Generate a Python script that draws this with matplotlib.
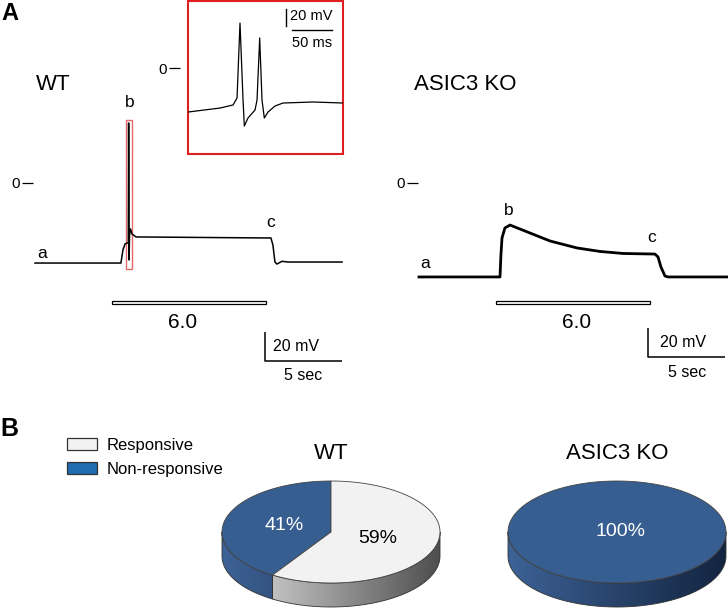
import numpy as np
import matplotlib
matplotlib.use('Agg')
import matplotlib.pyplot as plt
from matplotlib.patches import Rectangle, Polygon, Patch
from matplotlib.colors import LinearSegmentedColormap

plt.rcParams['font.family'] = ['Liberation Sans', 'DejaVu Sans']

# ---- values ----
# WT trace: time (s), membrane potential (mV)
wt_t = [0, 5.39, 5.58, 5.71, 5.84, 5.97, 6.06, 6.08, 6.11, 6.14, 6.20, 6.30, 6.56,
        14.94, 15.32, 15.45, 15.58, 15.71, 16.04, 16.43, 19.94]
wt_mv = [-55.2, -55.2, -55.2, -46.2, -42.1, -41.4, -41.4, 41.4, -53.1, -35.9, -31.7, -35.2, -37.2,
         -37.9, -37.9, -42.8, -54.5, -55.9, -54.0, -54.5, -54.5]

# ASIC3 KO trace
ko_t = [0, 5.26, 5.32, 5.39, 5.58, 5.91, 7.21, 8.51, 10.26, 11.75, 13.25, 15.32, 15.52,
        15.71, 15.97, 16.17, 20.0]
ko_mv = [-64.8, -64.8, -49.7, -37.9, -31.0, -29.0, -34.5, -40.0, -44.8, -47.2, -48.6, -49.0, -51.0,
         -57.9, -64.1, -64.8, -64.8]

# inset: expanded view of the WT spikes, time (ms), mV
ins_t = [0, 40, 56.3, 61.3, 65, 68.8, 70.4, 75, 83.8, 86.3, 89.6, 92.5, 95.4, 100,
         108.8, 118.8, 156.3, 193.8]
ins_mv = [-51.8, -47.1, -43.5, -35.3, 52.9, -37.6, -68.2, -58.8, -49.4, -37.6, 35.3, -37.6, -58.8, -51.8,
          -44.7, -41.2, -40.0, -41.2]

# acid application (pH 6.0), seconds
stim_start = 5.0
stim_end = 15.0
stim_label = '6.0'

# panel B
groups = ['WT', 'ASIC3 KO']
responsive = [59, 0]
non_responsive = [41, 100]

W, H = 728, 609
fig = plt.figure(figsize=(W / 100, H / 100), dpi=100)


def px_axes(x, y, w, h):
    return fig.add_axes([x / W, 1 - (y + h) / H, w / W, h / H])


def trace_axes(rect, x0_px, zero_px, px_x, px_y):
    ax = px_axes(*rect)
    x, y, w, h = rect
    ax.set_xlim((x - x0_px) / px_x, (x + w - x0_px) / px_x)
    ax.set_ylim((zero_px - (y + h)) / px_y, (zero_px - y) / px_y)
    ax.patch.set_visible(False)
    for s in ax.spines.values():
        s.set_visible(False)
    ax.set_xticks([])
    ax.set_yticks([0])
    ax.set_yticklabels(['0'])
    ax.tick_params(axis='y', length=7.9, width=0.9, pad=1.5, labelsize=11)
    return ax


def scale_bar(ax, t0, v0, dt, dv, lw=1.1):
    ax.plot([t0, t0, t0 + dt], [v0 + dv, v0, v0], color='black', lw=lw, solid_capstyle='butt')


# ---------------- panel A ----------------
ax_wt = trace_axes((0, 0, 365, 400), 35, 183, 15.4, 1.45)
ax_wt.spines['left'].set_position(('data', -0.13))
ax_wt.plot(wt_t, wt_mv, color='black', lw=1.1)
ax_wt.add_patch(Rectangle((5.91, -59.3), 0.39, 102.7, fill=False, edgecolor='#e36a6a', lw=1.0))
ax_wt.add_patch(Rectangle((stim_start, -83.4), stim_end - stim_start, 2.2, facecolor='white',
                          edgecolor='black', lw=0.9))
ax_wt.text(9.6, -95.9, stim_label, ha='center', va='center', fontsize=15)
ax_wt.text(0.45, -48.3, 'a', ha='center', va='center', fontsize=12.5)
ax_wt.text(6.17, 55.2, 'b', ha='center', va='center', fontsize=12.5)
ax_wt.text(15.32, -26.9, 'c', ha='center', va='center', fontsize=12.5)
ax_wt.text(0.05, 67.6, 'WT', ha='left', va='center', fontsize=16)
scale_bar(ax_wt, 14.94, -122.8, 5, 20)
ax_wt.text(15.45, -113, '20 mV', ha='left', va='center', fontsize=11.5)
ax_wt.text(17.4, -133, '5 sec', ha='center', va='center', fontsize=11.5)

ax_ko = trace_axes((370, 0, 358, 400), 419, 183, 15.4, 1.45)
ax_ko.spines['left'].set_position(('data', -0.065))
ax_ko.plot(ko_t, ko_mv, color='black', lw=2.0)
ax_ko.add_patch(Rectangle((stim_start, -83.4), stim_end - stim_start, 2.2, facecolor='white',
                          edgecolor='black', lw=0.9))
ax_ko.text(10.2, -95.9, stim_label, ha='center', va='center', fontsize=15)
ax_ko.text(0.39, -55.2, 'a', ha='center', va='center', fontsize=12.5)
ax_ko.text(5.84, -19.3, 'b', ha='center', va='center', fontsize=12.5)
ax_ko.text(15.13, -37.9, 'c', ha='center', va='center', fontsize=12.5)
ax_ko.text(-0.3, 67.6, 'ASIC3 KO', ha='left', va='center', fontsize=16)
scale_bar(ax_ko, 14.87, -120, 5, 20)
ax_ko.text(15.65, -110.3, '20 mV', ha='left', va='center', fontsize=11.5)
ax_ko.text(17.4, -131, '5 sec', ha='center', va='center', fontsize=11.5)

# inset
ax_in = trace_axes((188, 1, 155, 153), 188, 68, 0.8, 0.85)
ax_in.spines['left'].set_position(('outward', 5.8))
ax_in.patch.set_visible(True)
ax_in.patch.set_facecolor('white')
ax_in.add_patch(Rectangle((0, 0), 1, 1, transform=ax_in.transAxes, fill=False,
                          edgecolor='#e02020', lw=1.5, clip_on=False))
ax_in.plot(ins_t, ins_mv, color='black', lw=0.9)
ax_in.plot([122.5, 122.5], [69.4, 49.4], color='black', lw=1.0)
ax_in.plot([130, 180], [44.7, 44.7], color='black', lw=1.0)
ax_in.text(127.5, 61.2, '20 mV', ha='left', va='center', fontsize=10.5)
ax_in.text(155, 29.4, '50 ms', ha='center', va='center', fontsize=10.5)

fig.text(9.5 / W, 1 - 13.5 / H, 'A', fontsize=17, fontweight='bold', ha='center', va='center')

# ---------------- panel B ----------------
TILT = 51 / 109
DEPTH = 24 / 109
blue_side = LinearSegmentedColormap.from_list('bs', ['#3d6296', '#132440'])
gray_side = LinearSegmentedColormap.from_list('gs', ['#e4e4e4', '#4e4e4e'])
gradient = np.linspace(0, 1, 256).reshape(1, -1)


def pie3d(ax, values, top_colors, side_cmaps, labels, label_colors, title):
    ax.set_xlim(-1.15, 1.15)
    ax.set_ylim(-0.85, 0.75)
    ax.axis('off')
    total = float(sum(values))
    angles = [90.0]
    for v in values:
        angles.append(angles[-1] + 360.0 * v / total)
    wedges = [(a0, a1) for a0, a1, v in zip(angles[:-1], angles[1:], values) if v > 0]
    kept = [i for i, v in enumerate(values) if v > 0]
    # sides first
    for (a0, a1), i in zip(wedges, kept):
        lo, hi = max(a0, 180.0), min(a1, 360.0)
        if hi <= lo:
            continue
        th = np.radians(np.linspace(lo, hi, 120))
        xs, ys = np.cos(th), TILT * np.sin(th)
        pts = np.column_stack([np.r_[xs, xs[::-1]], np.r_[ys, ys[::-1] - DEPTH]])
        poly = Polygon(pts, closed=True, facecolor='none', edgecolor='#333333', lw=0.6, zorder=3)
        ax.add_patch(poly)
        im = ax.imshow(gradient, cmap=side_cmaps[i], aspect='auto',
                       extent=(-1, 1, -TILT - DEPTH, 0), zorder=2)
        im.set_clip_path(poly)
    # top faces
    for (a0, a1), i in zip(wedges, kept):
        th = np.radians(np.linspace(a0, a1, 200))
        xs, ys = np.cos(th), TILT * np.sin(th)
        if a1 - a0 < 359.9:
            xs, ys = np.r_[0, xs], np.r_[0, ys]
        ax.add_patch(Polygon(np.column_stack([xs, ys]), closed=True, facecolor=top_colors[i],
                             edgecolor='#444444', lw=0.6, zorder=4))
        mid = np.radians((a0 + a1) / 2)
        r = 0.45 if a1 - a0 < 359.9 else 0.0
        ax.text(r * np.cos(mid) + (0.03 if r == 0 else 0), r * TILT * np.sin(mid), labels[i],
                ha='center', va='center', fontsize=14, color=label_colors[i], zorder=5)
    ax.text(0, 0.716, title, ha='center', va='center', fontsize=16)


for g, nr, rp, cx in zip(groups, non_responsive, responsive, [331, 617]):
    ax = px_axes(cx - 1.15 * 109, 532 - 0.75 * 109, 2.3 * 109, 1.6 * 109)
    pie3d(ax, [nr, rp], ['#375e91', '#f2f2f2'], [blue_side, gray_side],
          ['%d%%' % nr, '%d%%' % rp], ['white', 'black'], g)

handles = [Patch(facecolor='#f2f2f2', edgecolor='#333333', lw=0.9, label='Responsive'),
           Patch(facecolor='#1f6cb0', edgecolor='#333333', lw=0.9, label='Non-responsive')]
fig.legend(handles=handles, loc='upper left', bbox_to_anchor=(67 / W, 1 - 438 / H),
           frameon=False, fontsize=12, handlelength=1.8, handleheight=0.75,
           handletextpad=0.6, labelspacing=0.55, borderpad=0, borderaxespad=0)

fig.text(9 / W, 1 - 429 / H, 'B', fontsize=18, fontweight='bold', ha='center', va='center')

fig.savefig('out.png', dpi=100)
